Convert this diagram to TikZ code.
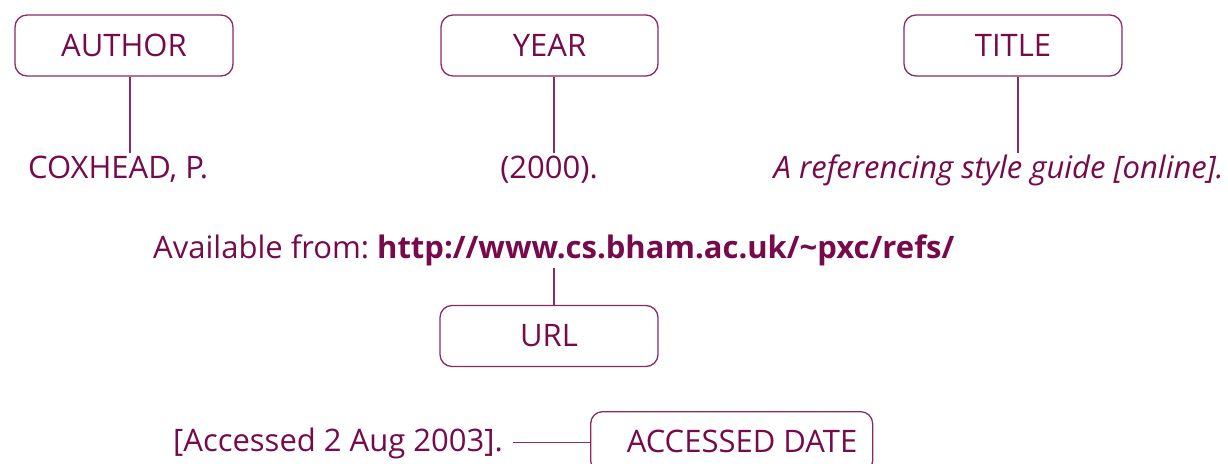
\documentclass[tikz,border=0pt]{standalone}
\usepackage{fontspec}
\setmainfont{Open Sans}
\definecolor{plum}{HTML}{760A4B}
\definecolor{plumline}{HTML}{8A2A62}
\begin{document}
\begin{tikzpicture}[x=1pt,y=-1pt,
  field/.style={draw=plumline, line width=1.3pt, rounded corners=12pt,
    minimum height=61pt, text=plum, font=\fontsize{31}{34}\selectfont, inner sep=0pt},
  part/.style={text=plum, font=\fontsize{31}{34}\selectfont, inner sep=0pt},
  link/.style={draw=plumline, line width=1.3pt}]
\useasboundingbox (0,0) rectangle (1228,463);
\clip (0,0) rectangle (1228,463);
% labelled boxes
\node[field, minimum width=218pt] (author) at (124,45.5) {AUTHOR};
\node[field, minimum width=217pt] (year) at (549.5,45.5) {YEAR};
\node[field, minimum width=218pt] (title) at (1013,45.5) {TITLE};
\node[field, minimum width=218pt] (url) at (549,336) {URL};
\node[field, minimum width=282pt, anchor=north west] (date) at (590,411) {};
\node[part] at (742,441) {ACCESSED DATE};
% reference parts
\node[part, anchor=base west] (names) at (28,178) {COXHEAD, P.};
\node[part, anchor=base] (when) at (549,178) {(2000).};
\node[part, anchor=base east] (what) at (1224,178) {\itshape A referencing style guide [online].};
\node[part, anchor=base west] (where) at (153,258) {Available from:\hspace{8pt}\textbf{http://www.cs.bham.ac.uk/\char`\~pxc/refs/}};
\node[part, anchor=base west] (seen) at (173,451) {[Accessed 2 Aug 2003].};
% connectors
\draw[link] ([xshift=6pt]author.south) -- ++(0,76);
\draw[link] ([xshift=4.5pt]year.south) -- ++(0,76);
\draw[link] ([xshift=5pt]title.south) -- ++(0,76);
\draw[link] ([xshift=5pt]url.north) -- ++(0,-37);
\draw[link] ([xshift=10pt]seen.east |- date.west) -- (date.west);
\end{tikzpicture}
\end{document}
